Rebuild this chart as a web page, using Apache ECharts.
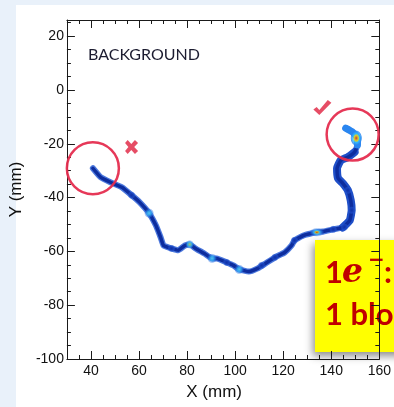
<!DOCTYPE html>
<html>
<head>
<meta charset="utf-8">
<script src="https://cdn.jsdelivr.net/npm/echarts@6/dist/echarts.min.js"></script>
<style>
  html, body { margin: 0; padding: 0; background: #e9f1fa; overflow: hidden; }
  #panel { position: absolute; left: 16px; top: 5px; width: 378px; height: 402px; background: #ffffff; }
  #chart { position: absolute; left: 0; top: 0; width: 394px; height: 407px; }
</style>
</head>
<body>
<div id="panel"></div>
<div id="chart"></div>
<script>
// Reconstructed electron track (mm)
const trackX = [40.8, 44.0, 48.1, 52.9, 56.9, 60.2, 64.2, 67.0, 69.0, 70.2, 73.5, 76.3, 79.1, 81.1, 83.5,
                87.2, 90.4, 92.4, 96.5, 99.3, 101.7, 105.7, 109.4, 112.6, 116.6, 120.6, 123.5, 124.7,
                128.7, 134.0, 136.8, 140.8, 144.8, 147.7, 148.5, 148.1, 146.9, 144.8, 142.8, 142.4,
                144.0, 146.9, 149.7, 150.9, 150.9, 148.9, 146.0];
const trackY = [-29.1, -32.4, -34.3, -36.2, -39.1, -41.7, -45.8, -50.3, -54.8, -57.8, -58.9, -59.6, -57.8,
                -57.4, -58.9, -60.8, -62.6, -62.6, -64.1, -65.2, -66.7, -67.5, -66.3, -64.5, -62.2,
                -60.4, -57.8, -55.9, -54.0, -52.9, -52.6, -51.8, -51.1, -48.5, -44.7, -41.0, -37.3,
                -34.7, -32.8, -29.1, -26.1, -25.0, -23.1, -20.5, -17.9, -15.7, -14.2];

// Energy-deposit clusters along the track and their intensity level (0 low .. 4 high)
const spotX = [64.2, 81.1, 90.4, 101.7, 134.0, 150.4,
               56.9, 73.5, 96.5, 111.0, 116.6, 124.7, 140.8, 146.9, 148.5, 145.5];
const spotY = [-45.8, -57.4, -62.6, -66.7, -52.9, -17.9,
               -39.1, -58.9, -64.1, -65.2, -62.2, -55.9, -51.8, -37.3, -44.7, -51.0];
const spotLevel = [1, 2, 1, 1, 3, 4,
                   0, 0, 0, 0, 0, 0, 0, 0, 0, 0];

// Annotation marks (mm)
const ringX = [40.8, 148.9];
const ringY = [-29.1, -16.6];
const crossX = [56.9];
const crossY = [-21.2];
const checkX = [136.3];
const checkY = [-6.5];

// Axis ticks
const xMajor = [40, 60, 80, 100, 120, 140, 160];
const xMinor = [35, 45, 50, 55, 65, 70, 75, 85, 90, 95, 105, 110, 115, 125, 130, 135, 145, 150, 155];
const yMajor = [-100, -80, -60, -40, -20, 0, 20];
const yMinor = [-95, -90, -85, -75, -70, -65, -55, -50, -45, -35, -30, -25, -15, -10, -5, 5, 10, 15, 25];
const xRange = [30, 160];
const yRange = [-100, 26];

const pairs = (xs, ys) => xs.map((x, i) => [x, ys[i]]);
const track = pairs(trackX, trackY);

const AX = '#1a1a1a';
const labelFont = { fontFamily: 'Liberation Sans', fontSize: 14, color: '#111' };

function axisPair(dim, pos, withLabels) {
  const range = dim === 'x' ? xRange : yRange;
  const major = dim === 'x' ? xMajor : yMajor;
  const minor = dim === 'x' ? xMinor : yMinor;
  const base = { type: 'value', min: range[0], max: range[1], position: pos, splitLine: { show: false } };
  const main = Object.assign({}, base, {
    axisLine: { show: true, onZero: false, lineStyle: { color: AX, width: 1 } },
    axisTick: { show: true, inside: true, length: 8, customValues: major, lineStyle: { color: AX, width: 1 } },
    axisLabel: withLabels
      ? Object.assign({ show: true, customValues: major, margin: dim === 'x' ? 5 : 3 }, labelFont)
      : { show: false }
  });
  const fine = Object.assign({}, base, {
    axisLine: { show: false, onZero: false },
    axisTick: { show: true, inside: true, length: 4, customValues: minor, lineStyle: { color: AX, width: 1 } },
    axisLabel: { show: false }
  });
  return [main, fine];
}

const xAxes = axisPair('x', 'bottom', true).concat(axisPair('x', 'top', false));
const yAxes = axisPair('y', 'left', true).concat(axisPair('y', 'right', false));
Object.assign(xAxes[0], {
  name: 'X (mm)', nameLocation: 'middle', nameGap: 25,
  nameTextStyle: { fontFamily: 'Liberation Sans', fontSize: 17, color: '#111', padding: [0, 18, 0, 0] }
});
Object.assign(yAxes[0], {
  name: 'Y (mm)', nameLocation: 'middle', nameGap: 29,
  nameTextStyle: { fontFamily: 'Liberation Sans', fontSize: 17, color: '#111' }
});

function radial(stops) {
  return { type: 'radial', x: 0.5, y: 0.5, r: 0.5,
           colorStops: stops.map(s => ({ offset: s[0], color: s[1] })) };
}
const spotStyles = {
  0: { size: [8, 8], color: radial([[0, '#0f32a8'], [0.6, '#1c48c4'], [1, 'rgba(40,100,220,0)']]) },
  1: { size: 10, color: radial([[0, '#6fe6ff'], [0.4, '#33b8f8'], [0.75, 'rgba(40,120,230,0.6)'], [1, 'rgba(30,90,215,0)']]) },
  2: { size: 9, color: radial([[0, '#e0e040'], [0.25, '#7ad8b0'], [0.55, '#33b0f5'], [1, 'rgba(30,90,215,0)']]) },
  3: { size: [15, 9], color: radial([[0, '#ff2a00'], [0.18, '#ffd400'], [0.4, '#45ccff'], [0.75, 'rgba(40,120,230,0.6)'], [1, 'rgba(30,90,215,0)']]) },
  4: { size: [12, 16], color: radial([[0, '#ff1e00'], [0.2, '#ff9a00'], [0.36, '#ffe600'], [0.55, '#35c2ff'], [0.85, '#2a86f0'], [1, 'rgba(40,130,240,0)']]) }
};
const spots = spotX.map((x, i) => {
  const st = spotStyles[spotLevel[i]];
  return { value: [x, spotY[i]], symbolSize: st.size, itemStyle: { color: st.color } };
});

const lineBase = { type: 'line', xAxisIndex: 0, yAxisIndex: 0, symbol: 'none', smooth: 0.12, silent: true };

const option = {
  animation: false,
  grid: { left: 66, right: 6, top: 20, bottom: 48 },
  xAxis: xAxes,
  yAxis: yAxes,
  series: [
    Object.assign({}, lineBase, {
      data: track, z: 3,
      lineStyle: { width: 6, color: '#2c5fd6', cap: 'round', join: 'round', opacity: 0.85 }
    }),
    Object.assign({}, lineBase, {
      data: track.slice(32, 43), z: 3,
      lineStyle: { width: 8, color: '#1f4fc8', cap: 'round', join: 'round' }
    }),
    Object.assign({}, lineBase, {
      data: track, z: 4,
      lineStyle: { width: 3.5, color: '#0d2d9e', cap: 'round', join: 'round' }
    }),
    Object.assign({}, lineBase, {
      data: track.slice(43), z: 5,
      lineStyle: { width: 7, color: '#2a86f0', cap: 'round', join: 'round' }
    }),
    {
      type: 'scatter', xAxisIndex: 0, yAxisIndex: 0, z: 6, silent: true,
      data: spots
    },
    {
      type: 'scatter', xAxisIndex: 0, yAxisIndex: 0, z: 8, silent: true,
      symbol: 'circle', symbolSize: 52,
      itemStyle: { color: 'rgba(0,0,0,0)', borderColor: '#e52d4f', borderWidth: 2.5, opacity: 0.95 },
      data: pairs(ringX, ringY)
    },
    {
      type: 'scatter', xAxisIndex: 0, yAxisIndex: 0, z: 8, silent: true,
      symbol: 'path://M2.5,0 L6,3.8 L9.5,0 L12.5,2.8 L8.8,6.5 L12.5,10.2 L9.5,13 L6,9.2 L2.5,13 L0,10.2 L3.2,6.5 L0,2.8 Z',
      symbolSize: [13, 14], itemStyle: { color: '#e0203f' },
      data: pairs(crossX, crossY)
    },
    {
      type: 'scatter', xAxisIndex: 0, yAxisIndex: 0, z: 8, silent: true,
      symbol: 'path://M0,9.5 L3.2,7 L5.8,10 L14,0 L17.5,2.8 L5.8,15 Z',
      symbolSize: [18, 15], itemStyle: { color: '#e0203f' },
      data: pairs(checkX, checkY)
    }
  ],
  graphic: [
    {
      type: 'text', left: 88, top: 47, z: 10,
      style: { text: 'BACKGROUND', font: '16px Lato', fill: '#1c1c30' }
    },
    {
      type: 'group', left: 315, top: 240, z: 20,
      children: [
        {
          type: 'rect', shape: { x: 0, y: 0, width: 90, height: 112 },
          style: { fill: '#ffff00', shadowBlur: 8, shadowColor: 'rgba(0,0,0,0.45)', shadowOffsetX: -2, shadowOffsetY: 4 }
        },
        { type: 'text', style: { x: 10, y: 33, text: '1', font: 'bold 31px Lato', fill: '#c00000', verticalAlign: 'middle' } },
        { type: 'text', style: { x: 27, y: 33, text: 'e', font: 'italic bold 33px "DejaVu Serif"', fill: '#c00000', verticalAlign: 'middle' } },
        { type: 'text', style: { x: 53, y: 21, text: '−', font: 'bold 20px "DejaVu Sans"', fill: '#c00000', verticalAlign: 'middle' } },
        { type: 'text', style: { x: 69, y: 33, text: ':', font: 'bold 31px Lato', fill: '#c00000', verticalAlign: 'middle' } },
        { type: 'text', style: { x: 10, y: 75, text: '1 blob', font: 'bold 31px Lato', fill: '#c00000', verticalAlign: 'middle' } }
      ]
    }
  ]
};

const chart = echarts.init(document.getElementById('chart'), null, { renderer: 'canvas' });
chart.setOption(option);
</script>
</body>
</html>
